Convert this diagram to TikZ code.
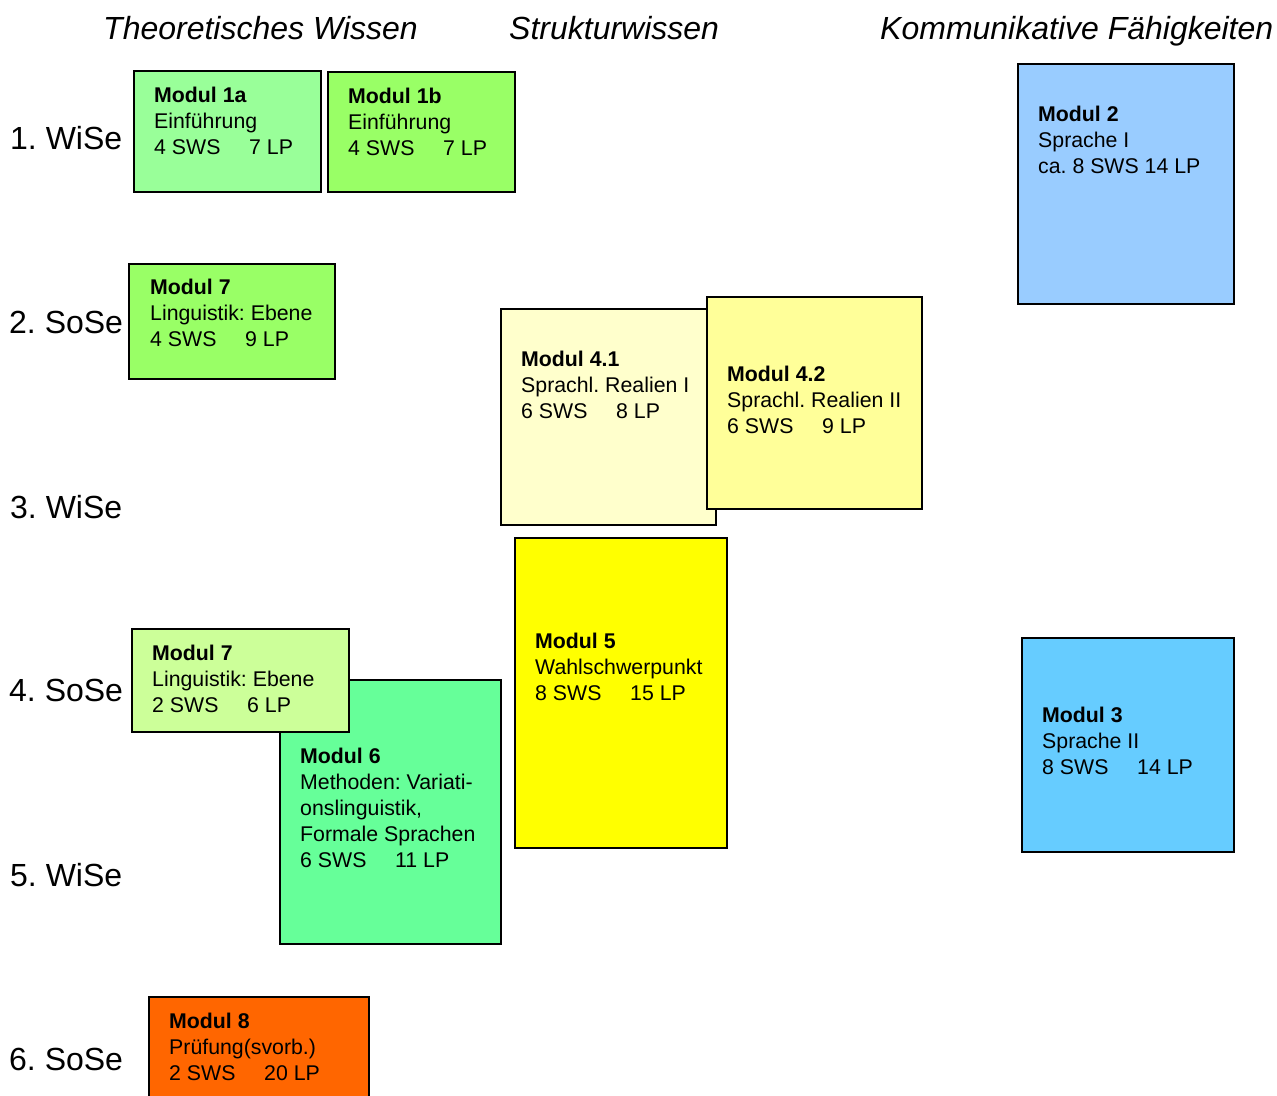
\documentclass[tikz,border=0pt]{standalone}
\usepackage{fontspec}
\setmainfont{Liberation Sans}
\frenchspacing
\newcommand\swslp[2]{\makebox[95pt][l]{#1}#2}
\newcommand\modlines[1]{\parbox[t]{320pt}{#1}}
\tikzset{
  modbox/.style={draw=black, line width=1.2pt, anchor=north west, inner sep=0pt, outer sep=0pt},
  modtxt/.style={anchor=base west, inner sep=0pt, font=\fontsize{21.3}{26}\selectfont},
  rowlab/.style={anchor=west, inner sep=0pt, font=\fontsize{32}{37}\selectfont},
  colhead/.style={anchor=base west, inner sep=0pt, font=\fontsize{32}{38}\selectfont\itshape},
}
\definecolor{cOneA}{HTML}{99FF99}
\definecolor{cOneB}{HTML}{99FF66}
\definecolor{cSevA}{HTML}{99FF66}
\definecolor{cFourA}{HTML}{FFFFCC}
\definecolor{cFourB}{HTML}{FFFF99}
\definecolor{cFive}{HTML}{FFFF00}
\definecolor{cSevB}{HTML}{CCFF99}
\definecolor{cSix}{HTML}{66FF99}
\definecolor{cEight}{HTML}{FF6600}
\definecolor{cTwo}{HTML}{99CCFF}
\definecolor{cThree}{HTML}{66CCFF}
\begin{document}
\begin{tikzpicture}[x=1pt,y=-1pt]
\useasboundingbox (0,0) rectangle (1277,1095);
% column headers
\node[colhead] (h1) at (103,39) {Theoretisches Wissen};
\node[colhead] (h2) at (509,39) {Strukturwissen};
\node[colhead] (h3) at (880,39) {Kommunikative Fähigkeiten};
% row labels
\node[rowlab] (r1) at (10,138) {1. WiSe};
\node[rowlab] (r2) at (9,322) {2. SoSe};
\node[rowlab] (r3) at (10,507) {3. WiSe};
\node[rowlab] (r4) at (9,690) {4. SoSe};
\node[rowlab] (r5) at (10,875) {5. WiSe};
\node[rowlab] (r6) at (9,1059) {6. SoSe};
% Modul 1a
\node[modbox, fill=cOneA, minimum width=187pt, minimum height=121pt] (b1a) at (134,71) {};
\node[modtxt] (t1a) at (154,102) {\modlines{\textbf{Modul 1a}\\Einführung\\\swslp{4 SWS}{7 LP}}};
% Modul 1b
\node[modbox, fill=cOneB, minimum width=187pt, minimum height=120pt] (b1b) at (328,72) {};
\node[modtxt] (t1b) at (348,103) {\modlines{\textbf{Modul 1b}\\Einführung\\\swslp{4 SWS}{7 LP}}};
% Modul 7 (2. SoSe)
\node[modbox, fill=cSevA, minimum width=206pt, minimum height=115pt] (b7a) at (129,264) {};
\node[modtxt] (t7a) at (150,294) {\modlines{\textbf{Modul 7}\\Linguistik: Ebene\\\swslp{4 SWS}{9 LP}}};
% Modul 2
\node[modbox, fill=cTwo, minimum width=216pt, minimum height=240pt] (b2) at (1018,64) {};
\node[modtxt] (t2) at (1038,121) {\modlines{\textbf{Modul 2}\\Sprache I\\ca. 8 SWS 14 LP}};
% Modul 4.1
\node[modbox, fill=cFourA, minimum width=215pt, minimum height=216pt] (b41) at (501,309) {};
\node[modtxt] (t41) at (521,366) {\modlines{\textbf{Modul 4.1}\\Sprachl. Realien I\\\swslp{6 SWS}{8 LP}}};
% Modul 4.2
\node[modbox, fill=cFourB, minimum width=215pt, minimum height=212pt] (b42) at (707,297) {};
\node[modtxt] (t42) at (727,381) {\modlines{\textbf{Modul 4.2}\\Sprachl. Realien II\\\swslp{6 SWS}{9 LP}}};
% Modul 5
\node[modbox, fill=cFive, minimum width=212pt, minimum height=310pt] (b5) at (515,538) {};
\node[modtxt] (t5) at (535,648) {\modlines{\textbf{Modul 5}\\Wahlschwerpunkt\\\swslp{8 SWS}{15 LP}}};
% Modul 6
\node[modbox, fill=cSix, minimum width=221pt, minimum height=264pt] (b6) at (280,680) {};
\node[modtxt] (t6) at (300,763) {\modlines{\textbf{Modul 6}\\Methoden: Variati-\\onslinguistik,\\Formale Sprachen\\\swslp{6 SWS}{11 LP}}};
% Modul 7 (4. SoSe)
\node[modbox, fill=cSevB, minimum width=217pt, minimum height=103pt] (b7b) at (132,629) {};
\node[modtxt] (t7b) at (152,660) {\modlines{\textbf{Modul 7}\\Linguistik: Ebene\\\swslp{2 SWS}{6 LP}}};
% Modul 3
\node[modbox, fill=cThree, minimum width=212pt, minimum height=214pt] (b3) at (1022,638) {};
\node[modtxt] (t3) at (1042,722) {\modlines{\textbf{Modul 3}\\Sprache II\\\swslp{8 SWS}{14 LP}}};
% Modul 8
\node[modbox, fill=cEight, minimum width=220pt, minimum height=110pt] (b8) at (149,997) {};
\node[modtxt] (t8) at (169,1028) {\modlines{\textbf{Modul 8}\\Prüfung(svorb.)\\\swslp{2 SWS}{20 LP}}};
\end{tikzpicture}
\end{document}
